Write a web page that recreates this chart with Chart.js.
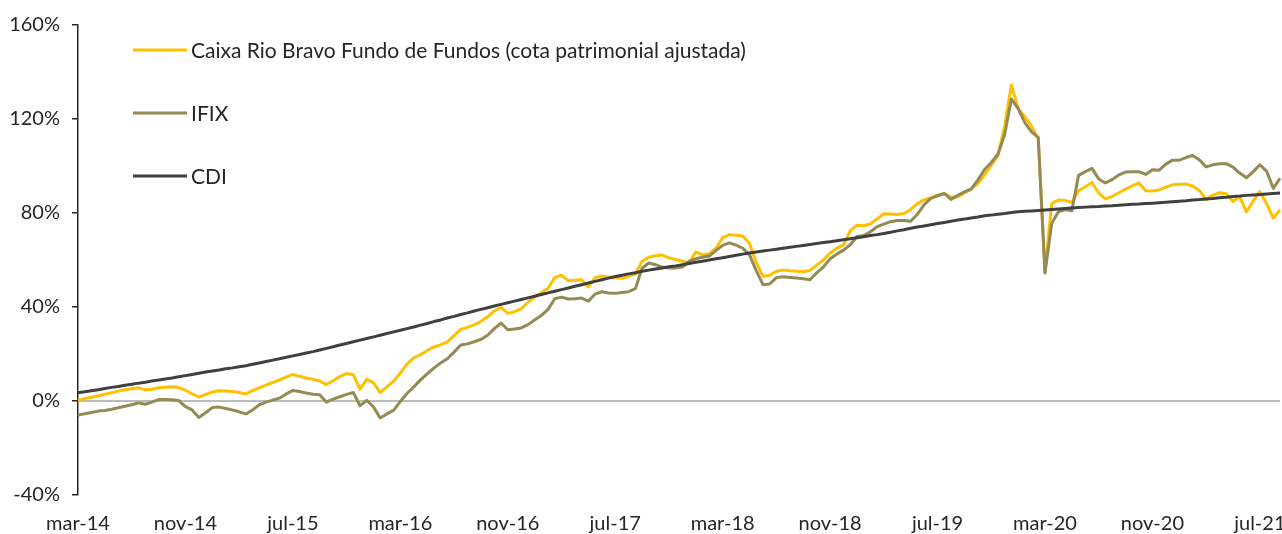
<!DOCTYPE html>
<html>
<head>
<meta charset="utf-8">
<script src="https://cdn.jsdelivr.net/npm/chart.js@4.4.1/dist/chart.umd.min.js"></script>
<style>
  html, body { margin: 0; padding: 0; background: #fff; }
  #wrap { width: 1282px; height: 534px; }
</style>
</head>
<body>
<div id="wrap"><canvas id="chart" width="1282" height="534"></canvas></div>
<script>
// semi-monthly points, mar-14 .. aug-21
const monthNames = ['jan', 'fev', 'mar', 'abr', 'mai', 'jun', 'jul', 'ago', 'set', 'out', 'nov', 'dez'];
const tickLabels = ['mar-14', 'nov-14', 'jul-15', 'mar-16', 'nov-16', 'jul-17', 'mar-18', 'nov-18', 'jul-19', 'mar-20', 'nov-20', 'jul-21'];
const tickEvery = 16;

const fundValues = [
  0.4, 1.0, 1.6, 2.2, 2.9, 3.5, 4.2, 4.8, 5.2, 5.6,
  4.8, 5.0, 5.6, 5.9, 6.1, 5.7, 4.6, 3.0, 1.7, 2.8,
  3.8, 4.4, 4.3, 4.0, 3.6, 3.0, 4.4, 5.6, 6.8, 7.8,
  9.0, 10.2, 11.3, 10.5, 9.8, 9.2, 8.5, 7.0, 8.6, 10.4,
  11.7, 11.2, 5.0, 9.2, 7.8, 3.6, 6.0, 8.5, 11.8, 15.8,
  18.3, 19.7, 21.5, 23.0, 23.9, 25.2, 27.8, 30.5, 31.3, 32.4,
  33.9, 35.8, 38.3, 39.8, 37.3, 38.0, 39.2, 42.0, 44.3, 46.1,
  48.0, 52.5, 53.5, 51.2, 51.4, 51.6, 48.5, 52.5, 53.2, 52.8,
  52.4, 52.2, 53.0, 54.0, 59.5, 61.2, 61.8, 62.1, 60.9, 60.2,
  59.5, 58.5, 63.5, 62.2, 62.7, 65.0, 69.5, 70.8, 70.5, 70.2,
  67.0, 59.0, 53.0, 53.5, 55.2, 55.7, 55.4, 55.2, 55.0, 55.5,
  57.8, 60.0, 63.0, 65.0, 66.4, 72.5, 74.8, 74.6, 75.3, 77.5,
  79.7, 79.6, 79.4, 79.8, 81.5, 84.0, 85.6, 86.5, 87.6, 88.2,
  86.8, 86.8, 88.5, 90.2, 92.5, 96.2, 100.3, 104.5, 117.0, 134.5,
  124.5, 121.0, 117.0, 111.5, 55.0, 84.0, 85.5, 85.3, 84.5, 89.5,
  91.2, 93.0, 88.5, 86.0, 87.0, 88.6, 90.2, 91.5, 92.8, 89.5,
  89.4, 89.8, 91.0, 92.0, 92.2, 92.3, 91.5, 89.5, 85.8, 87.6,
  88.6, 88.2, 84.9, 87.0, 80.5, 85.0, 89.1, 84.0, 77.8, 81.3
];

const ifixValues = [
  -6.0, -5.4, -4.9, -4.3, -4.0, -3.5, -2.9, -2.2, -1.6, -0.8,
  -1.4, -0.5, 0.6, 0.6, 0.5, 0.2, -2.4, -3.8, -7.0, -5.0,
  -2.8, -2.6, -3.2, -3.8, -4.6, -5.5, -3.8, -1.6, -0.5, 0.4,
  1.2, 3.0, 4.5, 4.0, 3.4, 2.9, 2.7, -0.5, 0.8, 1.8,
  2.8, 3.6, -2.0, 0.3, -2.5, -7.2, -5.5, -4.0, -0.2, 3.2,
  6.0, 9.0, 11.5, 14.0, 16.2, 18.0, 20.8, 23.8, 24.3, 25.2,
  26.2, 28.0, 30.8, 33.2, 30.3, 30.6, 31.1, 32.5, 34.5, 36.4,
  39.0, 43.5, 44.2, 43.4, 43.5, 43.8, 42.5, 45.5, 46.5, 46.0,
  45.8, 46.2, 46.5, 47.8, 56.5, 58.7, 58.0, 57.0, 56.6, 56.6,
  57.0, 59.5, 60.5, 61.2, 61.7, 64.0, 66.2, 67.3, 66.3, 65.0,
  62.2, 55.5, 49.5, 49.8, 52.5, 52.9, 52.6, 52.3, 52.0, 51.6,
  54.5, 57.0, 60.5, 62.5, 64.2, 66.5, 70.0, 70.4, 72.0, 74.2,
  75.3, 76.3, 76.8, 76.8, 76.5, 79.5, 83.5, 86.2, 87.3, 88.3,
  85.8, 87.5, 89.0, 90.2, 94.0, 98.5, 101.5, 105.0, 113.5, 128.5,
  124.5, 118.5, 114.5, 112.2, 54.5, 75.5, 80.5, 81.5, 81.0, 96.0,
  97.6, 99.0, 94.5, 92.8, 94.2, 96.2, 97.4, 97.6, 97.6, 96.4,
  98.4, 98.2, 100.8, 102.5, 102.5, 103.6, 104.5, 102.6, 99.6, 100.5,
  101.0, 101.0, 99.5, 97.0, 95.0, 97.5, 100.5, 97.8, 90.5, 94.8
];

const cdiValues = [
  3.5, 3.9, 4.4, 4.8, 5.3, 5.8, 6.2, 6.7, 7.1, 7.6,
  8.0, 8.5, 8.9, 9.4, 9.8, 10.3, 10.8, 11.3, 11.8, 12.3,
  12.8, 13.2, 13.7, 14.1, 14.6, 15.0, 15.6, 16.2, 16.8, 17.4,
  18.0, 18.6, 19.2, 19.8, 20.4, 21.0, 21.7, 22.4, 23.1, 23.8,
  24.5, 25.2, 25.9, 26.6, 27.3, 28.0, 28.7, 29.4, 30.1, 30.8,
  31.5, 32.3, 33.0, 33.8, 34.5, 35.3, 36.0, 36.8, 37.5, 38.3,
  39.0, 39.7, 40.4, 41.1, 41.8, 42.5, 43.2, 43.9, 44.6, 45.3,
  46.0, 46.7, 47.4, 48.1, 48.8, 49.5, 50.2, 50.9, 51.6, 52.3,
  53.0, 53.5, 54.1, 54.6, 55.2, 55.7, 56.2, 56.6, 57.1, 57.5,
  58.0, 58.5, 59.0, 59.5, 60.0, 60.5, 61.0, 61.5, 62.0, 62.5,
  63.0, 63.4, 63.8, 64.2, 64.6, 65.0, 65.4, 65.8, 66.2, 66.6,
  67.0, 67.4, 67.8, 68.2, 68.6, 69.0, 69.5, 69.9, 70.4, 70.8,
  71.3, 71.8, 72.4, 72.9, 73.5, 74.0, 74.5, 75.0, 75.5, 76.0,
  76.5, 77.0, 77.4, 77.9, 78.3, 78.8, 79.1, 79.5, 79.8, 80.2,
  80.5, 80.7, 80.9, 81.1, 81.3, 81.5, 81.7, 81.9, 82.1, 82.3,
  82.5, 82.7, 82.8, 83.0, 83.1, 83.3, 83.5, 83.7, 83.8, 84.0,
  84.2, 84.4, 84.6, 84.8, 85.0, 85.2, 85.5, 85.7, 86.0, 86.2,
  86.5, 86.7, 87.0, 87.2, 87.5, 87.7, 87.9, 88.1, 88.3, 88.5
];

const categories = [];
for (let i = 0; i < fundValues.length; i++) {
  const m = 2 + Math.floor(i / 2);
  const yy = 14 + Math.floor(m / 12);
  categories.push((i % 2 ? '15-' : '01-') + monthNames[m % 12] + '-' + yy);
}

const FONT = 'Lato, "Open Sans", sans-serif';
const TEXT = '#262626';

// zero line + legend drawn inside the plot
const overlay = {
  id: 'overlay',
  beforeDatasetsDraw(chart) {
    const { ctx, chartArea, scales } = chart;
    const y0 = scales.y.getPixelForValue(0);
    ctx.save();
    ctx.strokeStyle = '#a6a6a6';
    ctx.lineWidth = 1.5;
    ctx.beginPath();
    ctx.moveTo(chartArea.left, y0);
    ctx.lineTo(chartArea.right, y0);
    ctx.stroke();
    ctx.restore();
  },
  afterDraw(chart) {
    const { ctx } = chart;
    const rows = [50, 113, 176];
    ctx.save();
    ctx.font = '21px ' + FONT;
    ctx.textBaseline = 'middle';
    chart.data.datasets.forEach((ds, k) => {
      const y = rows[k];
      ctx.strokeStyle = ds.borderColor;
      ctx.lineWidth = 3;
      ctx.beginPath();
      ctx.moveTo(133, y);
      ctx.lineTo(187, y);
      ctx.stroke();
      ctx.fillStyle = TEXT;
      ctx.fillText(ds.label, 191, y + 1);
    });
    ctx.restore();
  },
};

new Chart(document.getElementById('chart'), {
  type: 'line',
  data: {
    labels: categories,
    datasets: [
      { label: 'Caixa Rio Bravo Fundo de Fundos (cota patrimonial ajustada)', data: fundValues, borderColor: '#ffc000', order: 2 },
      { label: 'IFIX', data: ifixValues, borderColor: '#948a54', order: 1 },
      { label: 'CDI', data: cdiValues, borderColor: '#404040', order: 0 },
    ],
  },
  options: {
    responsive: false,
    animation: false,
    layout: { padding: { top: 25, right: 2, left: 0, bottom: 0 } },
    elements: {
      point: { radius: 0 },
      line: { borderWidth: 3, tension: 0, borderJoinStyle: 'round' },
    },
    plugins: { legend: { display: false }, tooltip: { enabled: false } },
    scales: {
      x: {
        type: 'category',
        offset: false,
        grid: { display: false },
        border: { display: false },
        afterFit: (s) => { s.height = 39; s.paddingRight = 0; s.paddingLeft = 0; },
        ticks: {
          autoSkip: false,
          maxRotation: 0,
          padding: 9,
          color: TEXT,
          font: { family: FONT, size: 20 },
          callback: (v, i) => (i % tickEvery === 0 ? tickLabels[i / tickEvery] : null),
        },
      },
      y: {
        min: -40,
        max: 160,
        grid: { drawOnChartArea: false, drawTicks: true, tickLength: 6, color: '#262626', lineWidth: 1.5 },
        border: { display: true, color: '#262626', width: 1.5 },
        afterFit: (s) => { s.width = 78; },
        ticks: {
          stepSize: 40,
          padding: 12,
          color: TEXT,
          font: { family: FONT, size: 20 },
          callback: (v) => v + '%',
        },
      },
    },
  },
  plugins: [overlay],
});
</script>
</body>
</html>
